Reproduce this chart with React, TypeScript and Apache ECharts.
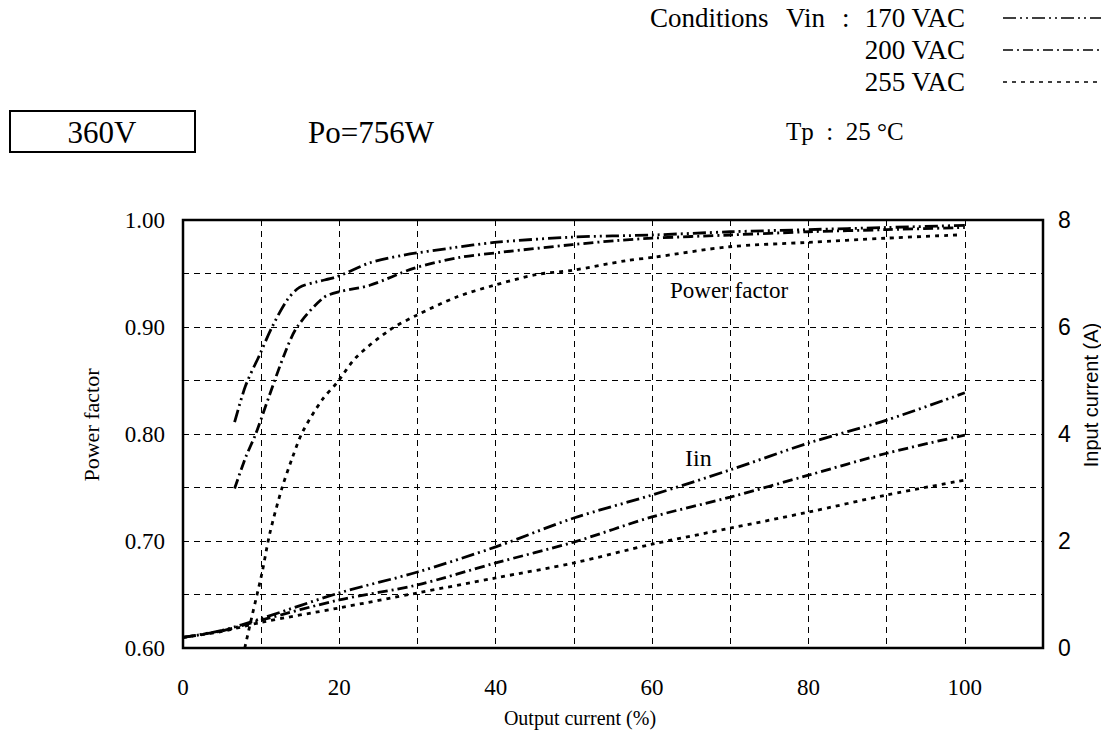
import React, { useEffect, useRef } from "react";
import * as echarts from "echarts";

// Output current (%) sample points and readings
const pf170X = [6.6, 8, 9.8, 11.4, 13.3, 14.9, 17, 19.7, 23.9, 28.1, 34.5, 39.8, 49.8, 60, 70, 80, 90, 100];
const pf170Y = [0.811, 0.845, 0.874, 0.9, 0.925, 0.937, 0.942, 0.947, 0.96, 0.967, 0.974, 0.979, 0.984, 0.986, 0.989, 0.991, 0.993, 0.995];
const pf200X = [6.6, 8, 9.3, 11, 13, 14.6, 17.9, 20, 23.9, 29.6, 35.4, 40.9, 49.8, 55.8, 60, 70, 80, 90, 100];
const pf200Y = [0.749, 0.778, 0.8, 0.835, 0.875, 0.9, 0.927, 0.933, 0.939, 0.955, 0.965, 0.97, 0.977, 0.981, 0.983, 0.986, 0.989, 0.991, 0.993];
const pf255X = [7.9, 8.8, 10.1, 11.1, 12.6, 13.9, 15.3, 17.8, 19.7, 22.2, 26.4, 29.9, 35, 39.8, 45.2, 49.8, 56.7, 60, 69.9, 79.7, 89.9, 99];
const pf255Y = [0.6, 0.629, 0.67, 0.707, 0.748, 0.776, 0.802, 0.832, 0.848, 0.872, 0.897, 0.911, 0.928, 0.939, 0.949, 0.953, 0.962, 0.965, 0.975, 0.979, 0.983, 0.986];

const iinX = [0, 5, 10, 20, 30, 40, 50, 60, 70, 80, 90, 100];
const iin170 = [0.2, 0.33, 0.55, 1.03, 1.42, 1.89, 2.43, 2.86, 3.33, 3.83, 4.26, 4.77];
const iin200 = [0.2, 0.32, 0.52, 0.9, 1.18, 1.59, 1.98, 2.45, 2.82, 3.23, 3.64, 3.98];
const iin255 = [0.2, 0.31, 0.48, 0.75, 1.03, 1.31, 1.59, 1.94, 2.24, 2.54, 2.86, 3.14];

const xTickLabels = [0, 20, 40, 60, 80, 100];
const pfTickLabels = [0.6, 0.7, 0.8, 0.9, 1.0];
const vinLabels = ["170 VAC", "200 VAC", "255 VAC"];

const dash170 = [13, 4, 2, 4, 2, 4];
const dash200 = [10, 4, 2, 4];
const dash255 = [4, 5];

const SERIF_NAME = "Liberation Serif";
const SANS_NAME = "Liberation Sans";
const SERIF = "'Liberation Serif', serif";
const SANS = "'Liberation Sans', sans-serif";

function zip(xs: number[], ys: number[]) {
  return xs.map((x, i) => [x, ys[i]]);
}

export default function App() {
  const ref = useRef<HTMLDivElement>(null);
  useEffect(() => {
    if (!ref.current) return;
    const chart = echarts.init(ref.current, null, { renderer: "svg" });
    const lineSeries = (name: string, data: number[][], dash: number[], yIdx: number) => ({
      name,
      type: "line",
      yAxisIndex: yIdx,
      data,
      showSymbol: false,
      smooth: 0.3,
      lineStyle: { color: "#000", width: 2.8, type: dash },
    });
    const legendY = [18, 50, 82];
    const dashes = [dash170, dash200, dash255];
    const txt = (text: string, x: number, y: number, size: number, align = "left", family = SERIF) => ({
      type: "text",
      x,
      y,
      style: { text, font: `${size}px ${family}`, fill: "#000", align, verticalAlign: "middle" },
    });
    chart.setOption({
      animation: false,
      backgroundColor: "#fff",
      textStyle: { fontFamily: SERIF_NAME },
      grid: { left: 183, right: 58, top: 220, bottom: 90, show: true, borderColor: "#000", borderWidth: 2.5, backgroundColor: "transparent" },
      xAxis: {
        type: "value",
        min: 0,
        max: 110,
        interval: 10,
        axisLine: { show: false },
        axisTick: { show: false },
        axisLabel: {
          margin: 28,
          fontFamily: SERIF_NAME,
          fontSize: 23,
          color: "#000",
          formatter: (v: number) => (xTickLabels.indexOf(v) >= 0 ? String(v) : ""),
        },
        splitLine: { show: true, lineStyle: { color: "#000", width: 1, type: [6, 5] } },
      },
      yAxis: [
        {
          type: "value",
          min: 0.6,
          max: 1.0,
          interval: 0.05,
          axisLine: { show: false },
          axisTick: { show: false },
          axisLabel: {
            margin: 18,
            fontFamily: SERIF_NAME,
            fontSize: 23,
            color: "#000",
            formatter: (v: number) =>
              pfTickLabels.some((t) => Math.abs(t - v) < 1e-6) ? v.toFixed(2) : "",
          },
          splitLine: { show: true, lineStyle: { color: "#000", width: 1, type: [6, 5] } },
        },
        {
          type: "value",
          min: 0,
          max: 8,
          interval: 2,
          position: "right",
          axisLine: { show: false },
          axisTick: { show: false },
          axisLabel: { margin: 15, fontFamily: SANS_NAME, fontSize: 23, color: "#000" },
          splitLine: { show: false },
        },
      ],
      series: [
        lineSeries("PF 170 VAC", zip(pf170X, pf170Y), dash170, 0),
        lineSeries("PF 200 VAC", zip(pf200X, pf200Y), dash200, 0),
        lineSeries("PF 255 VAC", zip(pf255X, pf255Y), dash255, 0),
        lineSeries("Iin 170 VAC", zip(iinX, iin170), dash170, 1),
        lineSeries("Iin 200 VAC", zip(iinX, iin200), dash200, 1),
        lineSeries("Iin 255 VAC", zip(iinX, iin255), dash255, 1),
      ],
      graphic: [
        txt("Conditions", 650, legendY[0], 27),
        txt("Vin", 786, legendY[0], 27),
        txt(":", 842, legendY[0], 27),
        ...vinLabels.map((t, i) => txt(t, 965, legendY[i], 27, "right")),
        ...dashes.map((d, i) => ({
          type: "line",
          shape: { x1: 1003, y1: legendY[i], x2: 1101, y2: legendY[i] },
          style: { stroke: "#000", lineWidth: 1.6, lineDash: d },
        })),
        { type: "rect", shape: { x: 10, y: 111, width: 185, height: 41 }, style: { fill: "none", stroke: "#000", lineWidth: 2 } },
        txt("360V", 102, 132, 31, "center"),
        txt("Po=756W", 308, 132, 31),
        txt("Tp  :  25 °C", 786, 131, 25),
        txt("Power factor", 670, 290, 23),
        txt("Iin", 685, 458, 24),
        txt("Output current (%)", 580, 718, 20, "center"),
        { ...txt("Power factor", 91, 425, 22, "center"), rotation: Math.PI / 2 },
        { ...txt("Input current (A)", 1091, 395, 20, "center", SANS), rotation: Math.PI / 2 },
      ],
    });
    return () => chart.dispose();
  }, []);
  return <div ref={ref} style={{ width: 1101, height: 738, position: "absolute", left: 0, top: 0 }} />;
}
